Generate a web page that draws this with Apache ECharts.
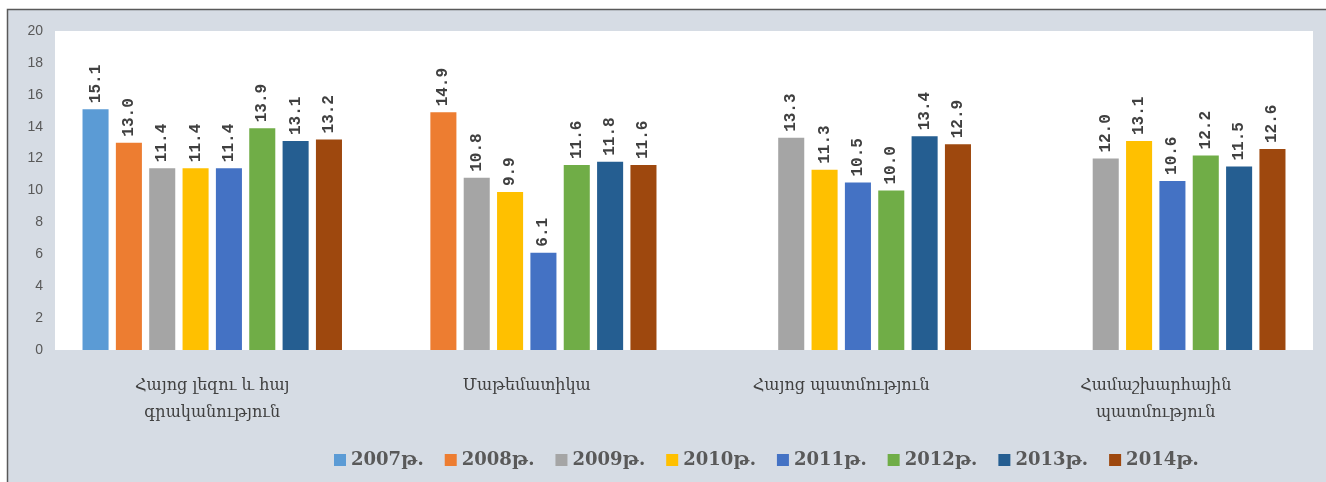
<!DOCTYPE html>
<html>
<head>
<meta charset="utf-8">
<script src="https://cdn.jsdelivr.net/npm/echarts@6/dist/echarts.min.js"></script>
<style>
html, body { margin: 0; padding: 0; background: #fff; }
#main { width: 1326px; height: 482px; }
</style>
</head>
<body>
<div id="main"></div>
<script>
var subjects = ['Հայոց լեզու և հայ\nգրականություն', 'Մաթեմատիկա', 'Հայոց պատմություն', 'Համաշխարհային\nպատմություն'];
var years = ['2007թ.', '2008թ.', '2009թ.', '2010թ.', '2011թ.', '2012թ.', '2013թ.', '2014թ.'];
var colors = ['#5b9bd5', '#ed7d31', '#a5a5a5', '#ffc000', '#4472c4', '#70ad47', '#255e91', '#9e480e'];

var v2007 = [15.1, null, null, null];
var v2008 = [13.0, 14.9, null, null];
var v2009 = [11.4, 10.8, 13.3, 12.0];
var v2010 = [11.4, 9.9, 11.3, 13.1];
var v2011 = [11.4, 6.1, 10.5, 10.6];
var v2012 = [13.9, 11.6, 10.0, 12.2];
var v2013 = [13.1, 11.8, 13.4, 11.5];
var v2014 = [13.2, 11.6, 12.9, 12.6];
var values = [v2007, v2008, v2009, v2010, v2011, v2012, v2013, v2014];

var dom = document.getElementById('main');
var myChart = echarts.init(dom);

var series = years.map(function (y, i) {
    return {
        name: y,
        type: 'bar',
        data: values[i],
        barGap: '28%',
        barCategoryGap: '17.5%',
        itemStyle: { color: colors[i] },
        label: {
            show: true,
            position: 'top',
            rotate: 90,
            align: 'left',
            verticalAlign: 'middle',
            distance: 6,
            fontFamily: 'Liberation Mono',
            fontWeight: 'bold',
            fontSize: 16,
            color: '#404040',
            formatter: function (p) { return p.value == null ? '' : p.value.toFixed(1); }
        }
    };
});

var option = {
    animation: false,
    backgroundColor: '#fff',
    graphic: [{
        type: 'rect',
        z: -10,
        shape: { x: 7.5, y: 9.5, width: 1330, height: 480 },
        style: { fill: '#d6dce4', stroke: '#595959', lineWidth: 1.5 }
    }],
    legend: {
        data: years,
        left: 329,
        top: 446,
        itemWidth: 12,
        itemHeight: 12,
        itemGap: 21,
        icon: 'rect',
        textStyle: {
            fontFamily: 'DejaVu Serif',
            fontWeight: 'bold',
            fontSize: 18,
            color: '#595959'
        }
    },
    grid: {
        left: 55,
        right: 13,
        top: 31,
        bottom: 132,
        show: true,
        backgroundColor: '#fff',
        borderWidth: 0,
        containLabel: false
    },
    xAxis: {
        type: 'category',
        data: subjects,
        axisLine: { show: false },
        axisTick: { show: false },
        axisLabel: {
            interval: 0,
            margin: 22,
            fontFamily: 'DejaVu Serif',
            fontSize: 16,
            lineHeight: 27,
            color: '#404040'
        }
    },
    yAxis: {
        type: 'value',
        min: 0,
        max: 20,
        interval: 2,
        splitLine: { show: false },
        axisLine: { show: false },
        axisTick: { show: false },
        axisLabel: {
            margin: 12,
            fontFamily: 'Liberation Sans',
            fontSize: 14,
            color: '#595959'
        }
    },
    series: series
};

if (option && typeof option === 'object') {
    myChart.setOption(option, true);
}
</script>
</body>
</html>
